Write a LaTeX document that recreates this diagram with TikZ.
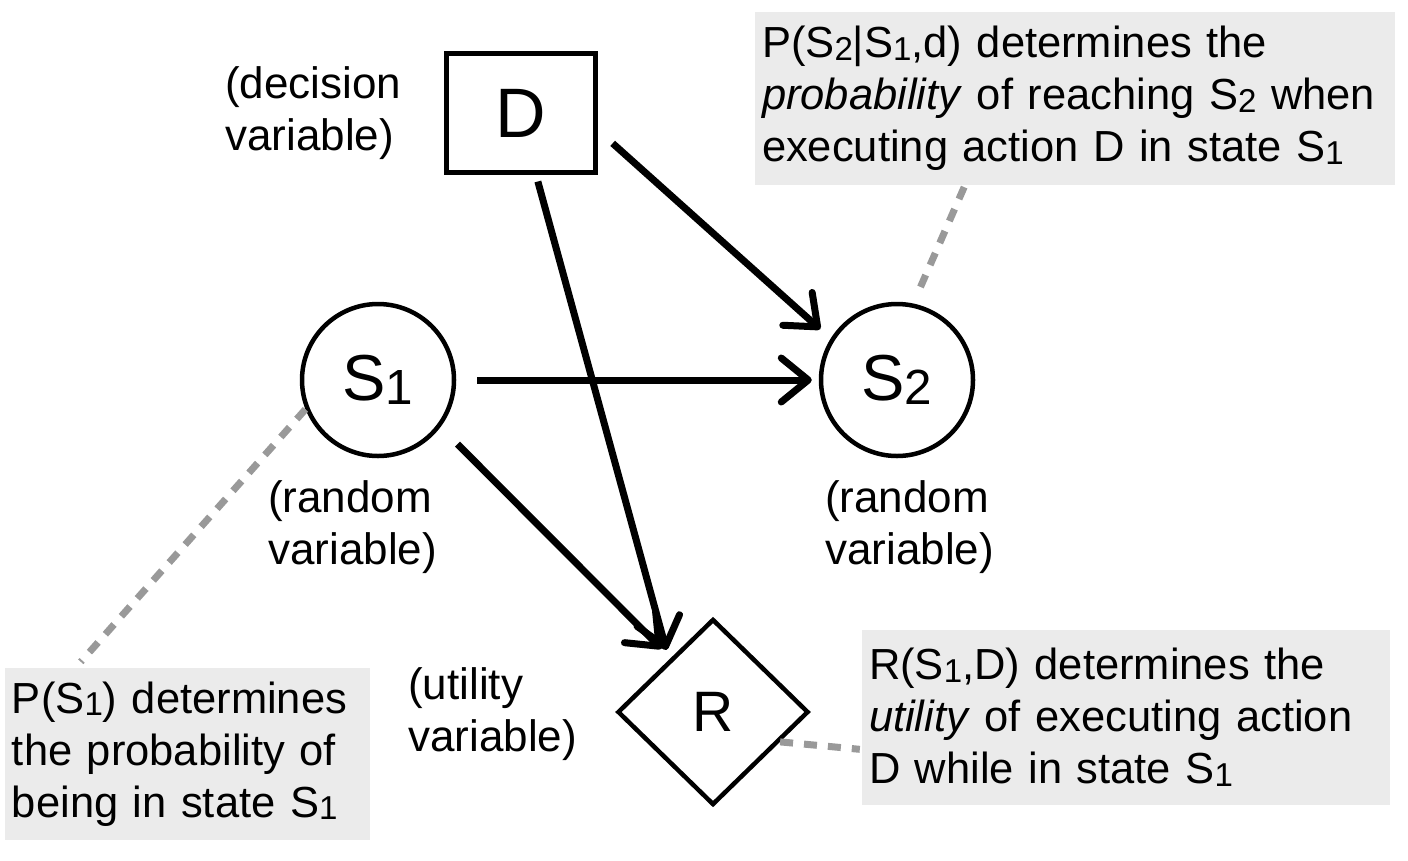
\documentclass[tikz,border=0pt]{standalone}
\usepackage{fontspec}
\setmainfont{Liberation Sans}
\usetikzlibrary{arrows.meta,shapes.geometric}
\newcommand\sbs[1]{\raisebox{-0.06em}{\scalebox{0.76}{#1}}}
\definecolor{boxgray}{HTML}{EBEBEB}
\definecolor{dashgray}{HTML}{999999}
\tikzset{
  rvar/.style={draw, circle, line width=4.5pt, minimum size=152pt, inner sep=0pt, font=\fontsize{65}{65}\selectfont},
  dvar/.style={draw, rectangle, line width=4.5pt, minimum width=149pt, minimum height=119pt, inner sep=0pt, font=\fontsize{70}{70}\selectfont},
  uvar/.style={draw, diamond, line width=4.5pt, minimum width=191pt, minimum height=186pt, inner sep=0pt, font=\fontsize{57}{57}\selectfont},
  lbl/.style={anchor=west, inner sep=0pt, align=left, font=\fontsize{44}{52}\selectfont},
  note/.style={fill=boxgray, inner sep=7pt, align=left, font=\fontsize{43.5}{52}\selectfont},
  arr/.style={line width=7pt, -{Straight Barb[length=27pt,width=44pt,round]}},
  dline/.style={draw=dashgray, line width=7pt, dash pattern=on 13pt off 11pt}
}
\begin{document}
\begin{tikzpicture}[x=1pt,y=-1pt]
\useasboundingbox (0,0) rectangle (1408,860);
% notes
\node[note, minimum width=640pt, minimum height=173pt, text width=626pt] (N1) at (1075,98.5)
  {P(S\sbs{2}|S\sbs{1},d) determines the\\ \textit{probability} of reaching S\sbs{2} when\\ executing action D in state S\sbs{1}};
\node[note, minimum width=528pt, minimum height=175pt, text width=514pt] (N2) at (1126,717.5)
  {R(S\sbs{1},D) determines the\\ \textit{utility} of executing action\\ D while in state S\sbs{1}};
\node[note, minimum width=365pt, minimum height=172pt, text width=351pt] (N3) at (187.5,754)
  {P(S\sbs{1}) determines\\ the probability of\\ being in state S\sbs{1}};
% main nodes
\node[dvar] (D) at (521,113) {D};
\node[rvar] (S1) at (378,380) {S\sbs{1}};
\node[rvar] (S2) at (897,380) {S\sbs{2}};
\node[uvar] (R) at (713,712) {R};
% labels
\node[lbl] (LD) at (225,113) {(decision\\variable)};
\node[lbl] (L1) at (268,527) {(random\\variable)};
\node[lbl] (L2) at (825,527) {(random\\variable)};
\node[lbl] (LR) at (408,714) {(utility\\variable)};
% dashed links
\draw[dline, shorten <=18pt] (S2.78) -- ([xshift=-110pt]N1.south);
\draw[dline, shorten >=8pt] (S1.202) -- ([xshift=-112pt]N3.north);
\draw[dline, shorten >=2pt] (R.-24) -- ([yshift=-32pt]N2.west);
% arrows
\draw[arr, shorten <=21pt, shorten >=7pt] (S1) -- (S2);
\draw[arr, shorten <=20pt, shorten >=14pt] ([yshift=-17pt]D.east) -- (S2.148.6);
\draw[arr, shorten <=7pt, shorten >=10pt] ([xshift=15pt]D.south) -- (R.130.9);
\draw[arr, shorten <=24pt, shorten >=13pt] (S1.-37.7) -- (R.128.6);
\end{tikzpicture}
\end{document}
